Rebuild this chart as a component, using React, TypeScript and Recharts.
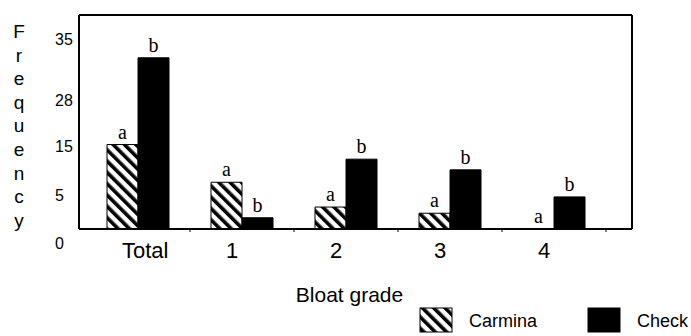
import { Bar, BarChart, CartesianGrid, LabelList, Legend, XAxis, YAxis } from 'recharts';

// bloat grade frequencies
const grades = ['Total', '1', '2', '3', '4'];
const carmina = [15, 8.3, 3.9, 2.8, 0];
const check = [30.4, 2.0, 12.4, 10.5, 5.7];
const carminaLetters = ['a', 'a', 'a', 'a', 'a'];
const checkLetters = ['b', 'b', 'b', 'b', 'b'];

// the printed y labels don't follow a linear scale, so they sit where the figure has them
const yTickValues = [0, 6, 14.6, 22.9, 33.6];
const yTickLabels = ['0', '5', '15', '28', '35'];
const yMax = 38;

const seriesNames = ['Carmina', 'Check'];
const yTitle = 'Frequency';

const data = grades.map((grade, i) => ({
    grade,
    carmina: carmina[i],
    check: check[i],
    carminaLetter: carminaLetters[i],
    checkLetter: checkLetters[i],
}));

const sans = 'Liberation Sans, Arial, sans-serif';
const serif = 'Liberation Serif, Times New Roman, serif';
const BAND_HALF = 52;

function Hatch({ id }: { id: string }) {
    return (
        <pattern id={id} width={8} height={8} patternUnits="userSpaceOnUse" patternTransform="rotate(-45)">
            <rect width={8} height={8} fill="#fff" />
            <rect width={3.6} height={8} fill="#000" />
        </pattern>
    );
}

function YTick(props: any) {
    const { x, y, payload } = props;
    const i = yTickValues.indexOf(payload.value);
    const dy = payload.value === 0 ? 14 : 0;
    return (
        <text x={x - 16} y={y + dy} dy="0.35em" fontSize={16} fontFamily={sans} textAnchor="start" fill="#000">
            {yTickLabels[i]}
        </text>
    );
}

function XTick(props: any) {
    const { x, y, payload } = props;
    return (
        <g>
            <line x1={x + BAND_HALF} x2={x + BAND_HALF} y1={y} y2={y + 3} stroke="#000" />
            <text x={x - 16} y={y + 29} fontSize={22} fontFamily={sans} textAnchor="start" fill="#000">
                {payload.value}
            </text>
        </g>
    );
}

function YTitle(props: any) {
    const { viewBox } = props;
    return (
        <text x={viewBox.x + 19} y={38} fontSize={19} fontFamily={sans} textAnchor="middle" fill="#000">
            {yTitle.split('').map((ch, i) => (
                <tspan key={i} x={viewBox.x + 19} dy={i === 0 ? 0 : 23.6}>
                    {ch}
                </tspan>
            ))}
        </text>
    );
}

function XTitle(props: any) {
    const { viewBox } = props;
    return (
        <text x={viewBox.x + viewBox.width / 2 - 6} y={302} fontSize={21} fontFamily={sans} textAnchor="middle" fill="#000">
            Bloat grade
        </text>
    );
}

function LegendContent() {
    return (
        <svg width={691} height={30} style={{ display: 'block' }}>
            <defs>
                <Hatch id="hatchLegend" />
            </defs>
            {seriesNames.map((name, i) => (
                <g key={name} transform={`translate(${420 + i * 168}, 2)`}>
                    <rect
                        width={32}
                        height={24}
                        fill={i === 0 ? 'url(#hatchLegend)' : '#000'}
                        stroke="#000"
                        strokeWidth={1}
                    />
                    <text x={49} y={19} fontSize={18} fontFamily={sans} fill="#000">
                        {name}
                    </text>
                </g>
            ))}
        </svg>
    );
}

const letterStyle = { fontSize: 20, fontFamily: serif, fill: '#000' };

export default function App() {
    return (
        <div style={{ position: 'absolute', left: 0, top: 0, background: '#fff' }}>
            <BarChart
                width={691}
                height={336}
                data={data}
                margin={{ top: 15, right: 59, left: 0, bottom: 0 }}
                barCategoryGap={21}
                barGap={0}
            >
                <defs>
                    <Hatch id="hatchBar" />
                </defs>
                {/* top and right edges of the frame */}
                <CartesianGrid
                    stroke="#000"
                    strokeWidth={2}
                    horizontalCoordinatesGenerator={({ offset }: any) => [offset.top]}
                    verticalCoordinatesGenerator={({ offset }: any) => [offset.left + offset.width]}
                />
                <XAxis
                    dataKey="grade"
                    height={77}
                    padding={{ left: 7, right: 26 }}
                    tickLine={false}
                    tickSize={0}
                    tickMargin={0}
                    axisLine={{ stroke: '#000', strokeWidth: 2 }}
                    tick={(p: any) => <XTick {...p} />}
                    interval={0}
                    label={(p: any) => <XTitle {...p} />}
                />
                <YAxis
                    width={79}
                    domain={[0, yMax]}
                    ticks={yTickValues}
                    interval={0}
                    tickLine={false}
                    axisLine={{ stroke: '#000', strokeWidth: 2 }}
                    tick={(p: any) => <YTick {...p} />}
                    label={(p: any) => <YTitle {...p} />}
                />
                <Legend
                    verticalAlign="bottom"
                    height={30}
                    wrapperStyle={{ left: 0, width: 691, bottom: 0 }}
                    content={() => <LegendContent />}
                />
                <Bar
                    dataKey="carmina"
                    name="Carmina"
                    fill="url(#hatchBar)"
                    stroke="#000"
                    strokeWidth={1}
                    minPointSize={0.5}
                    isAnimationActive={false}
                >
                    <LabelList dataKey="carminaLetter" position="top" offset={6} style={letterStyle} />
                </Bar>
                <Bar dataKey="check" name="Check" fill="#000" stroke="#000" strokeWidth={1} isAnimationActive={false}>
                    <LabelList dataKey="checkLetter" position="top" offset={6} style={letterStyle} />
                </Bar>
            </BarChart>
        </div>
    );
}
